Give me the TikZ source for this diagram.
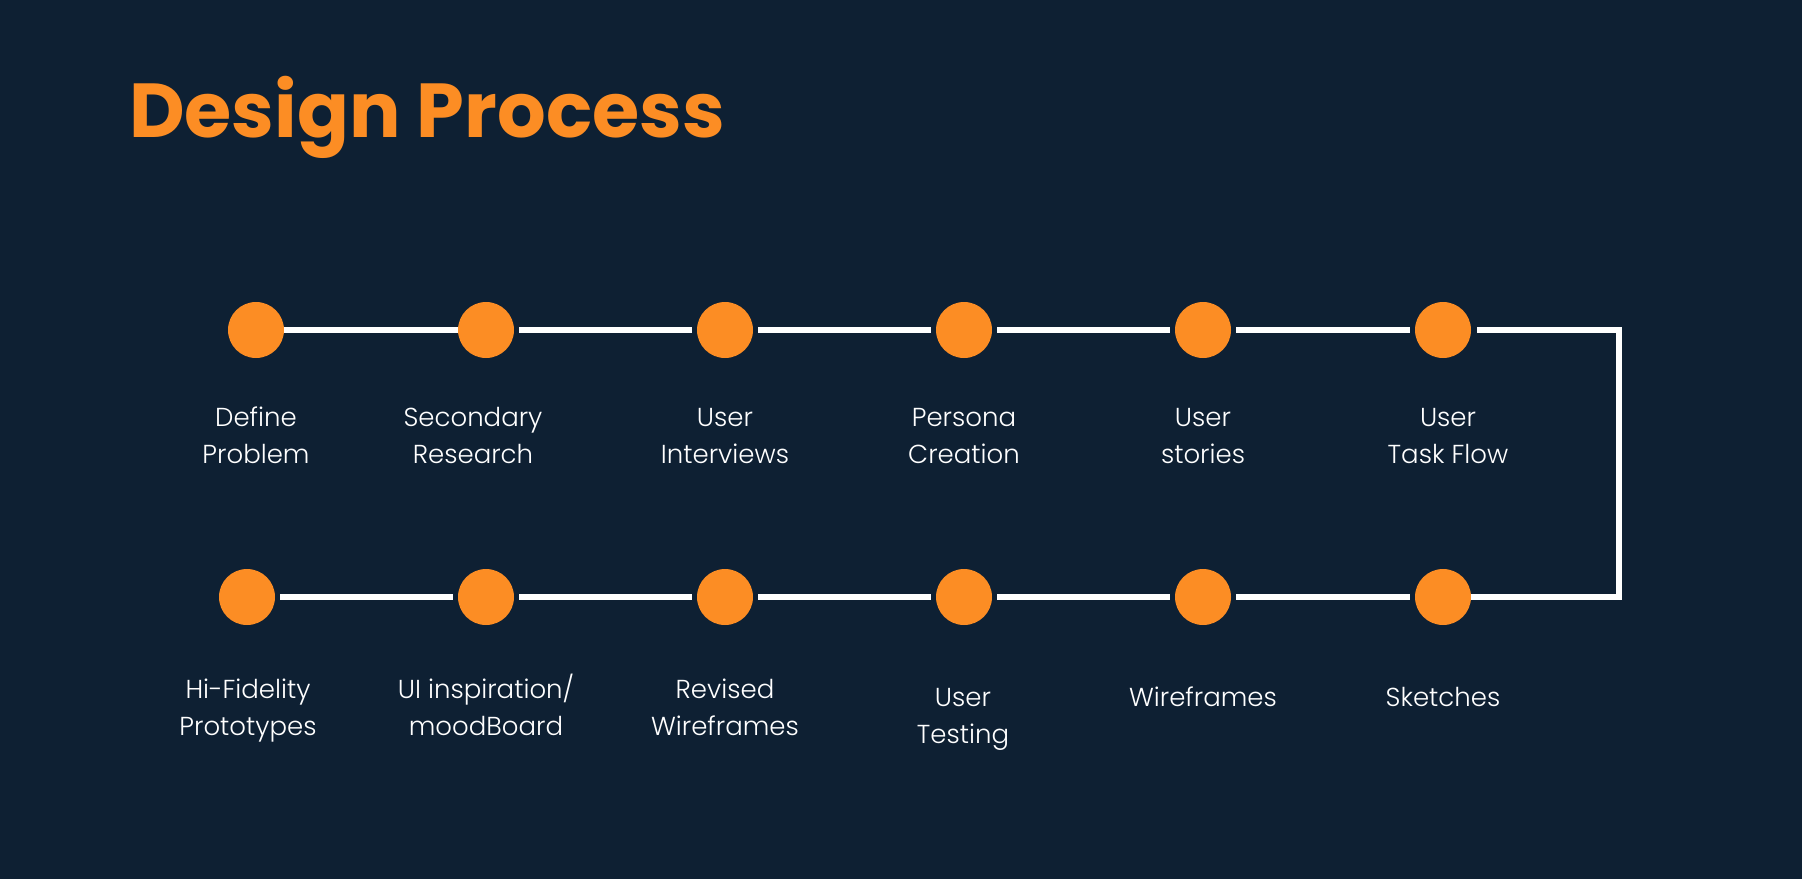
\documentclass[tikz,border=0pt]{standalone}
\usepackage{fontspec}
\setmainfont{Poppins}
\newfontfamily\lightfont{Poppins Light}
\definecolor{bg}{HTML}{0E2033}
\definecolor{dot}{HTML}{FC8D24}
\begin{document}
\begin{tikzpicture}[x=1pt,y=-1pt,
 dotnode/.style={circle,fill=dot,minimum size=56pt,inner sep=0pt},
 lbl/.style={text=white,font=\lightfont\fontsize{26}{37}\selectfont,align=center,anchor=base,inner sep=0pt},
 link/.style={draw=white,line width=5.5pt},
 gap/.style={shorten <=5pt,shorten >=5pt}]
\fill[bg] (0,0) rectangle (1802,879);
\useasboundingbox (0,0) rectangle (1802,879);
\node[anchor=base west,inner sep=0pt,text=dot,font=\fontsize{76.5}{76.5}\selectfont\bfseries] (title) at (129,137) {Design Process};
% top row
\node[dotnode] (c1) at (256,330) {};
\node[dotnode] (c2) at (486,330) {};
\node[dotnode] (c3) at (725,330) {};
\node[dotnode] (c4) at (964,330) {};
\node[dotnode] (c5) at (1203,330) {};
\node[dotnode] (c6) at (1443,330) {};
% bottom row
\node[dotnode] (d1) at (247,597) {};
\node[dotnode] (d2) at (486,597) {};
\node[dotnode] (d3) at (725,597) {};
\node[dotnode] (d4) at (964,597) {};
\node[dotnode] (d5) at (1203,597) {};
\node[dotnode] (d6) at (1443,597) {};
\coordinate (tr) at (1619,330);
\coordinate (br) at (1619,597);
% connectors
\draw[link] (c1) -- (c2);
\draw[link,gap] (c2) -- (c3);
\draw[link,gap] (c3) -- (c4);
\draw[link,gap] (c4) -- (c5);
\draw[link,gap] (c5) -- (c6);
\draw[link,shorten <=6pt,line join=miter] (c6) -- (tr) -- (br) -- (d6);
\draw[link,gap] (d6) -- (d5);
\draw[link,gap] (d5) -- (d4);
\draw[link,gap] (d4) -- (d3);
\draw[link,gap] (d3) -- (d2);
\draw[link,gap] (d2) -- (d1);
% labels (anchor = baseline of last line)
\node[lbl] (l1) at (256,463) {Define\\Problem};
\node[lbl] (l2) at (473,463) {Secondary\\Research};
\node[lbl] (l3) at (725,463) {User\\Interviews};
\node[lbl] (l4) at (964,463) {Persona\\Creation};
\node[lbl] (l5) at (1203,463) {User\\stories};
\node[lbl] (l6) at (1448,463) {User\\Task Flow};
\node[lbl] (m1) at (248,735) {Hi-Fidelity\\Prototypes};
\node[lbl] (m2) at (486,735) {UI inspiration/\\moodBoard};
\node[lbl] (m3) at (725,735) {Revised\\Wireframes};
\node[lbl] (m4) at (963,743) {User\\Testing};
\node[lbl] (m5) at (1203,706) {Wireframes};
\node[lbl] (m6) at (1443,706) {Sketches};
\end{tikzpicture}
\end{document}
